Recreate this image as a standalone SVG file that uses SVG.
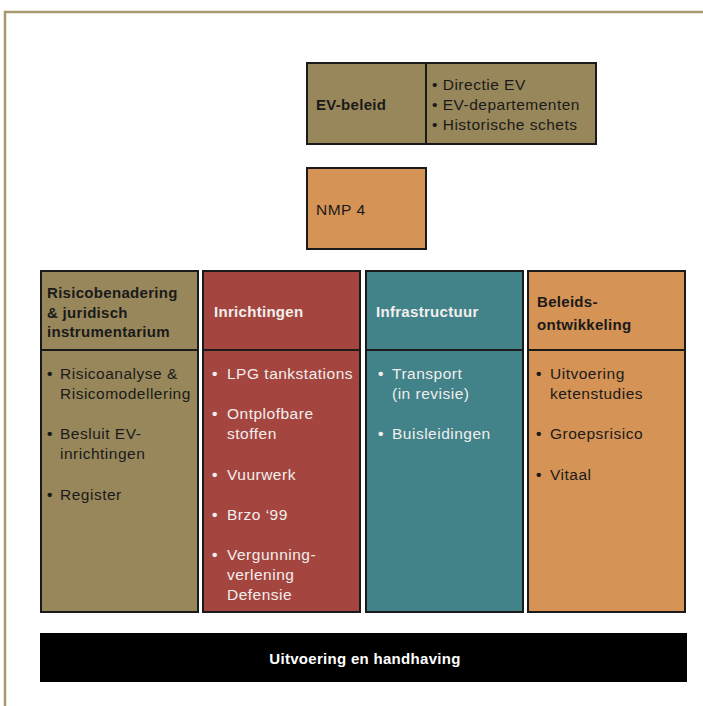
<svg xmlns="http://www.w3.org/2000/svg" width="703" height="706" viewBox="0 0 703 706">
<style>
text{font-family:"Liberation Sans",Arial,sans-serif;font-size:15.5px;letter-spacing:0.5px;dominant-baseline:central}
.b{font-weight:bold;font-size:15px;letter-spacing:0.3px}
.u{font-weight:bold}
.dk{fill:#1a1a1a}
.wt{fill:#f3eeee}
.box{stroke:#1a1a1a;stroke-width:2}
.tan{fill:#98875a}.red{fill:#a4463f}.teal{fill:#418389}.org{fill:#d59355}
</style>
<rect width="703" height="706" fill="#fff"/>
<path d="M5 706 V12 H703" fill="none" stroke="#a89a6e" stroke-width="2.5"/>
<g id="connectors"/>
<g id="ev-beleid">
<rect class="box tan" x="307" y="63" width="289" height="81"/>
<line class="box" x1="426" y1="63" x2="426" y2="144"/>
<text class="b dk" x="316" y="104">EV-beleid</text>
<text class="dk" x="432" y="84">• Directie EV</text>
<text class="dk" x="432" y="104">• EV-departementen</text>
<text class="dk" x="432" y="124">• Historische schets</text>
</g>
<g id="nmp4">
<rect class="box org" x="307" y="168" width="119" height="81"/>
<text class="dk" x="316" y="209">NMP 4</text>
</g>
<g id="col1">
<rect class="box tan" x="41" y="271" width="157" height="341"/>
<line class="box" x1="41" y1="350" x2="198" y2="350"/>
<text class="b dk" x="47" y="292">Risicobenadering</text>
<text class="b dk" x="47" y="312">&amp; juridisch</text>
<text class="b dk" x="47" y="331">instrumentarium</text>
<g class="dk">
<text class="u" x="47" y="373">•</text><text x="60" y="373">Risicoanalyse &amp;</text>
<text x="60" y="393">Risicomodellering</text>
<text class="u" x="47" y="433">•</text><text x="60" y="433">Besluit EV-</text>
<text x="60" y="453">inrichtingen</text>
<text class="u" x="47" y="494">•</text><text x="60" y="494">Register</text>
</g>
</g>
<g id="col2">
<rect class="box red" x="203" y="271" width="157" height="341"/>
<line class="box" x1="203" y1="350" x2="360" y2="350"/>
<text class="b wt" x="214" y="311">Inrichtingen</text>
<g class="wt">
<text class="u" x="212" y="373">•</text><text x="227" y="373">LPG tankstations</text>
<text class="u" x="212" y="413">•</text><text x="227" y="413">Ontplofbare</text>
<text x="227" y="433">stoffen</text>
<text class="u" x="212" y="474">•</text><text x="227" y="474">Vuurwerk</text>
<text class="u" x="212" y="514">•</text><text x="227" y="514">Brzo ‘99</text>
<text class="u" x="212" y="554">•</text><text x="227" y="554">Vergunning-</text>
<text x="227" y="574">verlening</text>
<text x="227" y="594">Defensie</text>
</g>
</g>
<g id="col3">
<rect class="box teal" x="366" y="271" width="157" height="341"/>
<line class="box" x1="366" y1="350" x2="523" y2="350"/>
<text class="b wt" x="376" y="311">Infrastructuur</text>
<g class="wt">
<text class="u" x="378" y="373">•</text><text x="392" y="373">Transport</text>
<text x="392" y="393">(in revisie)</text>
<text class="u" x="378" y="433">•</text><text x="392" y="433">Buisleidingen</text>
</g>
</g>
<g id="col4">
<rect class="box org" x="528" y="271" width="157" height="341"/>
<line class="box" x1="528" y1="350" x2="685" y2="350"/>
<text class="b dk" x="537" y="301">Beleids-</text>
<text class="b dk" x="537" y="324">ontwikkeling</text>
<g class="dk">
<text class="u" x="536" y="373">•</text><text x="550" y="373">Uitvoering</text>
<text x="550" y="393">ketenstudies</text>
<text class="u" x="536" y="433">•</text><text x="550" y="433">Groepsrisico</text>
<text class="u" x="536" y="474">•</text><text x="550" y="474">Vitaal</text>
</g>
</g>
<g id="uitvoering">
<rect x="40" y="633" width="647" height="49" fill="#000"/>
<text class="b" x="365" y="658" fill="#fff" text-anchor="middle">Uitvoering en handhaving</text>
</g>
</svg>
